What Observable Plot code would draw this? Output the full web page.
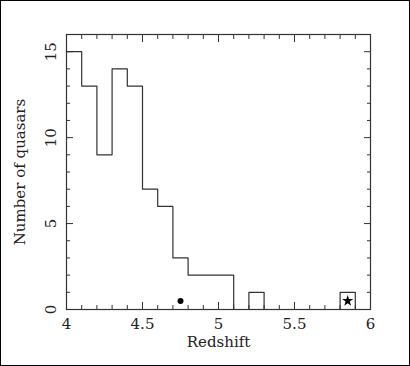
<!DOCTYPE html>
<html><head><meta charset="utf-8">
<script src="https://cdn.jsdelivr.net/npm/d3@7"></script>
<script src="https://cdn.jsdelivr.net/npm/@observablehq/plot@0.6"></script>
<style>
body{margin:0;background:#fff}
#c{position:relative;width:410px;height:366px}
#c svg{display:block}
#b{position:absolute;left:0;top:0;width:410px;height:366px;box-sizing:border-box;border:1px solid #000;pointer-events:none}
</style>
</head><body><div id="c"><div id="b"></div></div>
<script>
// histogram bin left edges and counts
const binEdges = [4.0,4.1,4.2,4.3,4.4,4.5,4.6,4.7,4.8,4.9,5.0,5.1,5.2,5.3,5.4,5.5,5.6,5.7,5.8,5.9];
const counts   = [15, 13, 9, 14, 13, 7, 6, 3, 2, 2, 2, 0, 1, 0, 0, 0, 0, 0, 1, 0];
// special markers
const dotPoint  = [{z: 4.75, n: 0.5}];
const starPoint = [{z: 5.85, n: 0.5}];
// ticks
const xMajor = [4, 4.5, 5, 5.5, 6];
const xTickLabels = ["4", "4.5", "5", "5.5", "6"];
const xMinor = [4.1,4.2,4.3,4.4,4.6,4.7,4.8,4.9,5.1,5.2,5.3,5.4,5.6,5.7,5.8,5.9];
const yMajor = [0, 5, 10, 15];
const yTickLabels = ["0", "5", "10", "15"];
const yMinor = [1,2,3,4,6,7,8,9,11,12,13,14,16];

const hist = binEdges.map((e, i) => ({z: e, n: counts[i]}));
const ink = "#222";

const chart = Plot.plot({
  width: 410, height: 366,
  marginLeft: 66, marginRight: 40, marginTop: 34, marginBottom: 57,
  style: {fontFamily: "DejaVu Serif", fontSize: "15px", color: ink, background: "transparent"},
  x: {domain: [4, 6]},
  y: {domain: [0, 16]},
  marks: [
    Plot.lineY(hist, {x: "z", y: "n", curve: "step-after", stroke: "#333", strokeWidth: 1.2}),
    Plot.frame({stroke: "#333", strokeWidth: 1.2}),
    Plot.axisX({anchor: "bottom", ticks: xMajor, tickSize: -7, text: null, label: null, stroke: "#333"}),
    Plot.axisX({anchor: "bottom", ticks: xMinor, tickSize: -4, text: null, label: null, stroke: "#333"}),
    Plot.axisX({anchor: "top", ticks: xMajor, tickSize: -7, text: null, label: null, stroke: "#333"}),
    Plot.axisX({anchor: "top", ticks: xMinor, tickSize: -4, text: null, label: null, stroke: "#333"}),
    Plot.axisY({anchor: "left", ticks: yMajor, tickSize: -7, text: null, label: null, stroke: "#333"}),
    Plot.axisY({anchor: "left", ticks: yMinor, tickSize: -4, text: null, label: null, stroke: "#333"}),
    Plot.axisY({anchor: "right", ticks: yMajor, tickSize: -7, text: null, label: null, stroke: "#333"}),
    Plot.axisY({anchor: "right", ticks: yMinor, tickSize: -4, text: null, label: null, stroke: "#333"}),
    Plot.text(xMajor, {x: d => d, text: (d, i) => xTickLabels[i], frameAnchor: "bottom", textAnchor: "middle", lineAnchor: "middle", dy: 15, fill: ink}),
    Plot.text(yMajor, {y: d => d, text: (d, i) => yTickLabels[i], frameAnchor: "left", textAnchor: "middle", lineAnchor: "middle", dx: -15, rotate: -90, fill: ink}),
    Plot.text(["Redshift"], {text: d => d, frameAnchor: "bottom", textAnchor: "middle", lineAnchor: "middle", dy: 33, fill: ink}),
    Plot.text(["Number of quasars"], {text: d => d, frameAnchor: "left", textAnchor: "middle", lineAnchor: "middle", dx: -46, rotate: -90, fill: ink}),
    Plot.dot(dotPoint, {x: "z", y: "n", r: 3, fill: "#000"}),
    Plot.dot(starPoint, {x: "z", y: "n", r: 3.5, symbol: "star", fill: "#000"})
  ]
});
document.getElementById("c").prepend(chart);
</script>
</body></html>
